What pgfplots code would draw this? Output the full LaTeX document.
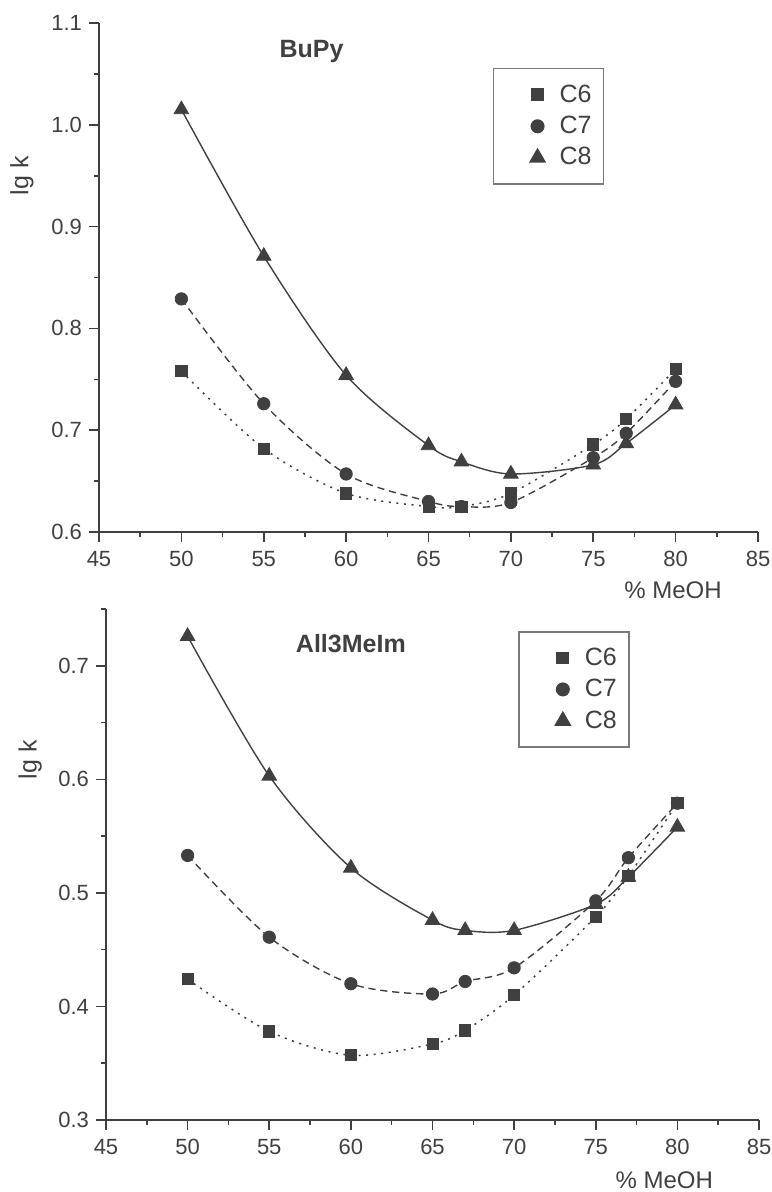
\documentclass[border=0pt]{standalone}
\usepackage{fontspec}
\setmainfont{Liberation Sans}
\usepackage{pgfplots}
\pgfplotsset{compat=1.18}
\definecolor{ink}{HTML}{404040}
\definecolor{boxgray}{HTML}{7A7A7A}

\pgfplotsset{
  lgk/.style={
    scale only axis,
    axis x line*=bottom, axis y line*=left,
    axis line style={ink,line width=0.9pt},
    xmin=45,xmax=85,xtick={45,50,55,60,65,70,75,80,85},
    minor xtick={47.5,52.5,57.5,62.5,67.5,72.5,77.5,82.5},
    tick align=outside,
    major tick length=5pt,minor tick length=2.5pt,
    every tick/.style={ink,line width=0.8pt},
    tick label style={font=\fontsize{11}{13}\selectfont,text=ink},
    /pgf/number format/assume math mode=true,
    yticklabel style={/pgf/number format/.cd,fixed,fixed zerofill,precision=1},
    xticklabel style={yshift=-1pt},
    ylabel={lg k},
    ylabel style={font=\fontsize{12.5}{14}\selectfont,text=ink,anchor=center},
    xlabel={\% MeOH},
    xlabel style={font=\fontsize{12}{14}\selectfont,text=ink,anchor=center},
    legend cell align=left,
    legend image code/.code={%
      \draw[draw=none] (0pt,0pt) -- (27pt,0pt);
      \draw plot coordinates {(18pt,0pt)};},
    legend style={draw=boxgray,line width=0.8pt,anchor=north west,
      font=\fontsize{12.5}{14}\selectfont,text=ink,
      inner xsep=4pt,inner ysep=6pt,row sep=1.5pt},
    /tikz/every even column/.append style={column sep=11pt},
    c6/.style={ink,line width=0.75pt,dash pattern=on 1pt off 2.8pt},
    c7/.style={ink,line width=0.7pt,dash pattern=on 3.6pt off 2.4pt},
    c8/.style={ink,line width=0.7pt},
    m6/.style={ink,only marks,mark=square*,mark size=2.8pt},
    m7/.style={ink,only marks,mark=*,mark size=3.1pt},
    m8/.style={ink,only marks,mark=triangle*,mark size=4.2pt},
  }
}

\pgfplotstableread{
x    c6     c7     c8
50   0.758  0.829  1.015
55   0.682  0.726  0.871
60   0.638  0.657  0.754
65   0.625  0.630  0.685
67   0.625  0.625  0.669
70   0.638  0.629  0.657
75   0.686  0.673  0.666
77   0.711  0.697  0.687
80   0.760  0.748  0.725
}\bupy

\pgfplotstableread{
x    c6     c7     c8
50   0.424  0.533  0.726
55   0.378  0.461  0.603
60   0.357  0.420  0.522
65   0.367  0.411  0.476
67   0.379  0.422  0.467
70   0.410  0.434  0.467
75   0.479  0.493  0.490
77   0.515  0.531  0.514
80   0.579  0.579  0.558
}\allim

\begin{document}
\begin{tikzpicture}
\useasboundingbox (0,0) rectangle (385.5pt,-596pt);

\begin{axis}[lgk,
  at={(49.5pt,-266pt)},anchor=south west,
  width=329.5pt,height=254.5pt,
  ymin=0.6,ymax=1.1,ytick={0.6,0.7,0.8,0.9,1.0,1.1},
  minor ytick={0.65,0.75,0.85,0.95,1.05},
  ylabel style={at={(axis description cs:-0.117,0.70)}},
  xlabel style={at={(axis description cs:0.871,-0.114)}},
  legend style={at={(axis cs:68.9,1.056)}},
]
\addplot[c6,smooth,forget plot] table[x=x,y=c6] {\bupy};
\addplot[c7,smooth,forget plot] table[x=x,y=c7] {\bupy};
\addplot[c8,smooth,forget plot] table[x=x,y=c8] {\bupy};
\addplot[m6] table[x=x,y=c6] {\bupy};
\addplot[m7] table[x=x,y=c7] {\bupy};
\addplot[m8] table[x=x,y=c8] {\bupy};
\legend{C6,C7,C8}
\node[font=\bfseries\fontsize{12.5}{14}\selectfont,text=ink] at (axis cs:57.9,1.072) {BuPy};
\end{axis}

\begin{axis}[lgk,
  at={(53pt,-560pt)},anchor=south west,
  width=326.5pt,height=255.5pt,
  ymin=0.3,ymax=0.75,ytick={0.3,0.4,0.5,0.6,0.7},
  minor ytick={0.35,0.45,0.55,0.65,0.75},
  ylabel style={at={(axis description cs:-0.116,0.705)}},
  xlabel style={at={(axis description cs:0.855,-0.117)}},
  legend style={at={(axis cs:70.24,0.7307)}},
]
\addplot[c6,smooth,forget plot] table[x=x,y=c6] {\allim};
\addplot[c7,smooth,forget plot] table[x=x,y=c7] {\allim};
\addplot[c8,smooth,forget plot] table[x=x,y=c8] {\allim};
\addplot[m6] table[x=x,y=c6] {\allim};
\addplot[m7] table[x=x,y=c7] {\allim};
\addplot[m8] table[x=x,y=c8] {\allim};
\legend{C6,C7,C8}
\node[font=\bfseries\fontsize{12.5}{14}\selectfont,text=ink] at (axis cs:60,0.72) {All3MeIm};
\end{axis}
\end{tikzpicture}
\end{document}
